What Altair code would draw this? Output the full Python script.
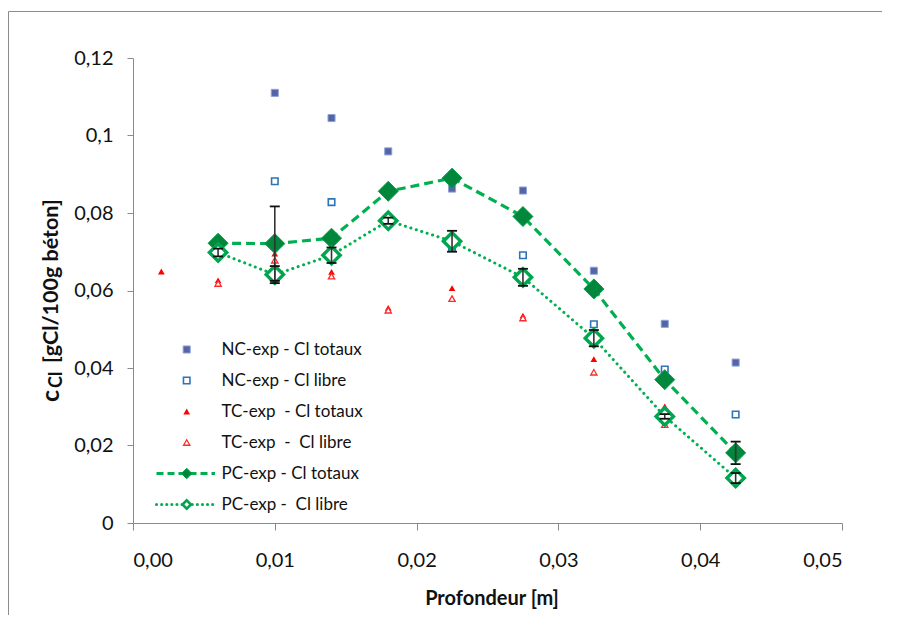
import altair as alt
import pandas as pd

# ---------------- data ----------------
x_nc = [0.010, 0.014, 0.018, 0.0225, 0.0275, 0.0325, 0.0375, 0.0425]
nc_totaux = [0.1110, 0.1045, 0.0959, 0.0863, 0.0858, 0.0651, 0.0514, 0.0414]
nc_libre = [0.0882, 0.0828, 0.0785, 0.0710, 0.0691, 0.0513, 0.0396, 0.0280]

x_tc_tot = [0.002, 0.006, 0.010, 0.014, 0.018, 0.0225, 0.0275, 0.0325, 0.0375]
tc_totaux = [0.0649, 0.0626, 0.0695, 0.0648, 0.0555, 0.0606, 0.0535, 0.0423, 0.0301]
x_tc_lib = [0.006, 0.010, 0.014, 0.018, 0.0225, 0.0275, 0.0325, 0.0375]
tc_libre = [0.0618, 0.0678, 0.0637, 0.0549, 0.0579, 0.0529, 0.0389, 0.0254]

x_pc = [0.006, 0.010, 0.014, 0.018, 0.0225, 0.0275, 0.0325, 0.0375, 0.0425]
pc_totaux = [0.0722, 0.0721, 0.0735, 0.0856, 0.0890, 0.0791, 0.0604, 0.0370, 0.0181]
pc_totaux_err = [0.0, 0.0096, 0.0, 0.0, 0.0, 0.0, 0.0, 0.0, 0.0029]
pc_libre = [0.0698, 0.0641, 0.0691, 0.0780, 0.0727, 0.0634, 0.0477, 0.0275, 0.0116]
pc_libre_err = [0.0010, 0.0022, 0.0020, 0.0008, 0.0027, 0.0022, 0.0021, 0.0006, 0.0013]

legend_labels = [
    "NC-exp - Cl totaux",
    "NC-exp - Cl libre",
    "TC-exp \u00a0- Cl totaux",
    "TC-exp \u00a0- \u00a0Cl libre",
    "PC-exp - Cl totaux",
    "PC-exp - \u00a0Cl libre",
]

x_ticks = [0.0, 0.01, 0.02, 0.03, 0.04, 0.05]
y_ticks = [0.0, 0.02, 0.04, 0.06, 0.08, 0.10, 0.12]

x_title = "Profondeur [m]"
y_title_main = "[gCl/100g béton]"

# ---------------- build ----------------
FONT = "Lato"
W, H = 709, 465
PAD_L, PAD_T, PAD_R, PAD_B = 125, 50, 40, 92

df_nc_t = pd.DataFrame({"x": x_nc, "y": nc_totaux})
df_nc_l = pd.DataFrame({"x": x_nc, "y": nc_libre})
df_tc_t = pd.DataFrame({"x": x_tc_tot, "y": tc_totaux})
df_tc_l = pd.DataFrame({"x": x_tc_lib, "y": tc_libre})
df_pc_t = pd.DataFrame({"x": x_pc, "y": pc_totaux})
df_pc_l = pd.DataFrame({"x": x_pc, "y": pc_libre})

err_rows = []
for xv, yv, e in zip(x_pc, pc_totaux, pc_totaux_err):
    if e > 0:
        err_rows.append({"x": xv, "lo": yv - e, "hi": yv + e})
for xv, yv, e in zip(x_pc, pc_libre, pc_libre_err):
    if e > 0:
        err_rows.append({"x": xv, "lo": yv - e, "hi": yv + e})
df_err = pd.DataFrame(err_rows)
df_err_caps = pd.concat([
    df_err[["x", "lo"]].rename(columns={"lo": "v"}),
    df_err[["x", "hi"]].rename(columns={"hi": "v"}),
], ignore_index=True)

xs = alt.Scale(domain=[0, 0.05], nice=False, zero=False)
ys = alt.Scale(domain=[0, 0.12], nice=False, zero=False)

x_axis = alt.Axis(
    values=x_ticks, title=x_title, grid=False,
    labelExpr="replace(format(datum.value, '.2f'), '.', ',')",
    domainColor="#8a8a8a", tickColor="#8a8a8a", tickSize=7,
    labelPadding=20, labelFontSize=20, labelColor="#111",
    titleFontSize=20, titleFontWeight="bold", titleColor="#111",
    titleBaseline="alphabetic", titleY=81, titleX=W / 2 + 4,
)
y_axis = alt.Axis(
    values=y_ticks, title=None, grid=False,
    labelExpr="replace(format(datum.value, '.2~f'), '.', ',')",
    domainColor="#8a8a8a", tickColor="#8a8a8a", tickSize=6,
    labelPadding=14, labelFontSize=20, labelColor="#111",
)


def X():
    return alt.X("x:Q", scale=xs, axis=x_axis)


def Y(field="y"):
    return alt.Y(f"{field}:Q", scale=ys, axis=y_axis)


nc_t = alt.Chart(df_nc_t).mark_point(
    shape="square", filled=True, size=50, fill="#5464A6", stroke="#8FA2D8",
    strokeWidth=1, opacity=1,
).encode(x=X(), y=Y())
nc_l = alt.Chart(df_nc_l).mark_point(
    shape="square", filled=False, size=42, fill="white", fillOpacity=1,
    stroke="#2E75B6", strokeWidth=1.6, opacity=1,
).encode(x=X(), y=Y())
tc_t = alt.Chart(df_tc_t).mark_point(
    shape="triangle-up", filled=True, size=45, color="#FF0000", opacity=1,
).encode(x=X(), y=Y())
tc_l = alt.Chart(df_tc_l).mark_point(
    shape="triangle-up", filled=False, size=40, fill="white", fillOpacity=1,
    stroke="#FF2A2A", strokeWidth=1.3, opacity=1,
).encode(x=X(), y=Y())

pc_t_line = alt.Chart(df_pc_t).mark_line(
    color="#00B050", strokeWidth=3.2, strokeDash=[9, 5],
).encode(x=X(), y=Y())
pc_l_line = alt.Chart(df_pc_l).mark_line(
    color="#00B050", strokeWidth=3, strokeDash=[0.1, 5.6], strokeCap="round",
).encode(x=X(), y=Y())

pc_t_pts = alt.Chart(df_pc_t).mark_point(
    shape="diamond", filled=True, size=400, fill="#00873C", stroke="#00A048",
    strokeWidth=1, opacity=1,
).encode(x=X(), y=Y())
pc_l_pts = alt.Chart(df_pc_l).mark_point(
    shape="diamond", filled=False, size=300, fill="white", fillOpacity=1,
    stroke="#00A550", strokeWidth=3.4, opacity=1,
).encode(x=X(), y=Y())

err_bar = alt.Chart(df_err).mark_rule(color="#333333", strokeWidth=1.6).encode(
    x=X(), y=Y("lo"), y2=alt.Y2("hi")
)
err_cap = alt.Chart(df_err_caps).mark_rule(
    color="#111111", strokeWidth=1.8, xOffset=-5, x2Offset=5,
).encode(x=X(), x2=alt.X2("x"), y=Y("v"))

# ---------------- legend (inside the plot, lower left) ----------------
LEG_SYM_X = 53.7
LEG_LINE_X0, LEG_LINE_X1 = 23.5, 82
LEG_TXT_X = 88.5
LEG_Y0, LEG_DY = 291.5, 31.0

df_leg = pd.DataFrame({"label": legend_labels, "row": list(range(len(legend_labels)))})
df_leg["py"] = LEG_Y0 + df_leg["row"] * LEG_DY


def leg_rows(rows):
    return df_leg[df_leg["row"].isin(rows)]


LY = alt.Y("py:Q", scale=None, axis=None)

leg_text = alt.Chart(df_leg).mark_text(
    align="left", baseline="middle", font=FONT, fontSize=17, color="#111",
).encode(x=alt.value(LEG_TXT_X), y=LY, text="label:N")

leg_line_t = alt.Chart(leg_rows([4])).mark_rule(
    color="#00B050", strokeWidth=3.2, strokeDash=[7, 4],
).encode(x=alt.value(LEG_LINE_X0), x2=alt.value(LEG_LINE_X1), y=LY)
leg_line_l = alt.Chart(leg_rows([5])).mark_rule(
    color="#00B050", strokeWidth=3, strokeDash=[0.1, 5], strokeCap="round",
).encode(x=alt.value(LEG_LINE_X0), x2=alt.value(LEG_LINE_X1), y=LY)

leg_nc_t = alt.Chart(leg_rows([0])).mark_point(
    shape="square", filled=True, size=50, fill="#5464A6", stroke="#8FA2D8",
    strokeWidth=1, opacity=1,
).encode(x=alt.value(LEG_SYM_X), y=LY)
leg_nc_l = alt.Chart(leg_rows([1])).mark_point(
    shape="square", filled=False, size=42, fill="white", fillOpacity=1,
    stroke="#2E75B6", strokeWidth=1.6, opacity=1,
).encode(x=alt.value(LEG_SYM_X), y=LY)
leg_tc_t = alt.Chart(leg_rows([2])).mark_point(
    shape="triangle-up", filled=True, size=45, color="#FF0000", opacity=1,
).encode(x=alt.value(LEG_SYM_X), y=LY)
leg_tc_l = alt.Chart(leg_rows([3])).mark_point(
    shape="triangle-up", filled=False, size=40, fill="white", fillOpacity=1,
    stroke="#FF2A2A", strokeWidth=1.3, opacity=1,
).encode(x=alt.value(LEG_SYM_X), y=LY)
leg_pc_t = alt.Chart(leg_rows([4])).mark_point(
    shape="diamond", filled=True, size=110, fill="#00873C", stroke="#00A048",
    strokeWidth=1, opacity=1,
).encode(x=alt.value(LEG_SYM_X), y=LY)
leg_pc_l = alt.Chart(leg_rows([5])).mark_point(
    shape="diamond", filled=False, size=70, fill="white", fillOpacity=1,
    stroke="#00A550", strokeWidth=2.6, opacity=1,
).encode(x=alt.value(LEG_SYM_X), y=LY)

# ---------------- y-axis title with subscript ----------------
yt_c = alt.Chart(df_leg.head(1)).mark_text(
    text="c", angle=270, align="left", baseline="alphabetic", font=FONT,
    fontSize=25, fontWeight="bold", color="#111",
).encode(x=alt.value(-74), y=alt.value(344))
yt_sub = alt.Chart(df_leg.head(1)).mark_text(
    text="Cl", angle=270, align="left", baseline="alphabetic", font=FONT,
    fontSize=18, fontWeight="bold", color="#111",
).encode(x=alt.value(-71), y=alt.value(330))
yt_main = alt.Chart(df_leg.head(1)).mark_text(
    text=y_title_main, angle=270, align="left", baseline="alphabetic", font=FONT,
    fontSize=21.5, fontWeight="bold", color="#111",
).encode(x=alt.value(-75), y=alt.value(305))

# ---------------- outer chart frame (Excel chart border) ----------------
frame_left = alt.Chart(df_leg.head(1)).mark_rule(color="#8c8c8c", strokeWidth=1).encode(
    x=alt.value(-124.5), y=alt.value(-46.5), y2=alt.value(H + PAD_B)
)
frame_top = alt.Chart(df_leg.head(1)).mark_rule(color="#8c8c8c", strokeWidth=1).encode(
    x=alt.value(-124.5), x2=alt.value(W + PAD_R), y=alt.value(-46.5)
)

chart = alt.layer(
    nc_t, nc_l, tc_t, tc_l,
    pc_t_line, pc_l_line,
    pc_t_pts, pc_l_pts,
    err_bar, err_cap,
    leg_line_t, leg_line_l,
    leg_nc_t, leg_nc_l, leg_tc_t, leg_tc_l, leg_pc_t, leg_pc_l,
    leg_text,
    yt_c, yt_sub, yt_main,
    frame_left, frame_top,
).properties(
    width=W, height=H,
    padding={"left": PAD_L, "top": PAD_T, "right": PAD_R, "bottom": PAD_B},
    autosize=alt.AutoSizeParams(type="none"),
    background="white",
).configure_view(
    stroke=None
).configure_axis(
    labelFont=FONT, titleFont=FONT,
)

chart.save("out.html", embed_options={"renderer": "svg", "actions": False})
